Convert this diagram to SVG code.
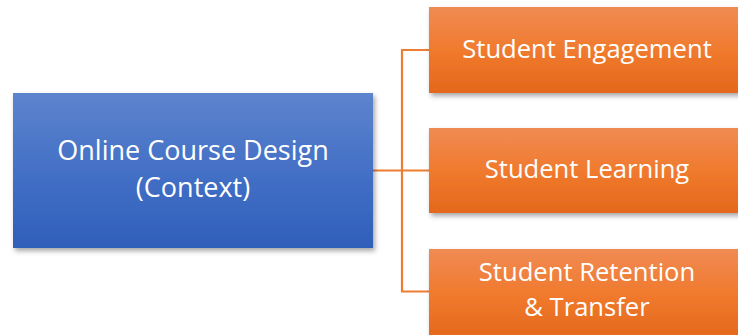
<svg xmlns="http://www.w3.org/2000/svg" width="738" height="335" viewBox="0 0 738 335">
<defs>
<linearGradient id="gb" x1="0" y1="0" x2="0" y2="1"><stop offset="0" stop-color="#5d84cd"/><stop offset="0.5" stop-color="#4470c6"/><stop offset="1" stop-color="#2f5fb9"/></linearGradient>
<linearGradient id="go" x1="0" y1="0" x2="0" y2="1"><stop offset="0" stop-color="#f08b54"/><stop offset="0.5" stop-color="#f07a2e"/><stop offset="1" stop-color="#e4681b"/></linearGradient>
<filter id="sh" x="-10%" y="-10%" width="125%" height="130%"><feDropShadow dx="2" dy="3" stdDeviation="2.5" flood-color="#000" flood-opacity="0.35"/></filter>
<style>
.t{font-family:"Open Sans","Noto Sans",sans-serif;fill:#fff;text-anchor:middle}
.b{font-size:27px}
.o{font-size:25.6px}
.c{fill:none;stroke:#ed7d31;stroke-width:2.2}
</style>
</defs>
<g id="connectors">
<path class="c" d="M373 170.5H402M402 50V291.5M401 50H430M401 170.5H430M401 291.5H430"/>
</g>
<g id="node-context">
<rect x="13" y="93" width="360" height="155" fill="url(#gb)" filter="url(#sh)"/>
<text class="t b" x="193" y="160">Online Course Design</text>
<text class="t b" x="193" y="197">(Context)</text>
</g>
<g id="node-engagement">
<rect x="429" y="7" width="315" height="86" fill="url(#go)" filter="url(#sh)"/>
<text class="t o" x="587" y="58">Student Engagement</text>
</g>
<g id="node-learning">
<rect x="429" y="128" width="315" height="85" fill="url(#go)" filter="url(#sh)"/>
<text class="t o" x="587" y="178">Student Learning</text>
</g>
<g id="node-retention">
<rect x="429" y="249" width="315" height="90" fill="url(#go)" filter="url(#sh)"/>
<text class="t o" x="587" y="281">Student Retention</text>
<text class="t o" x="587" y="316">&amp; Transfer</text>
</g>
</svg>
